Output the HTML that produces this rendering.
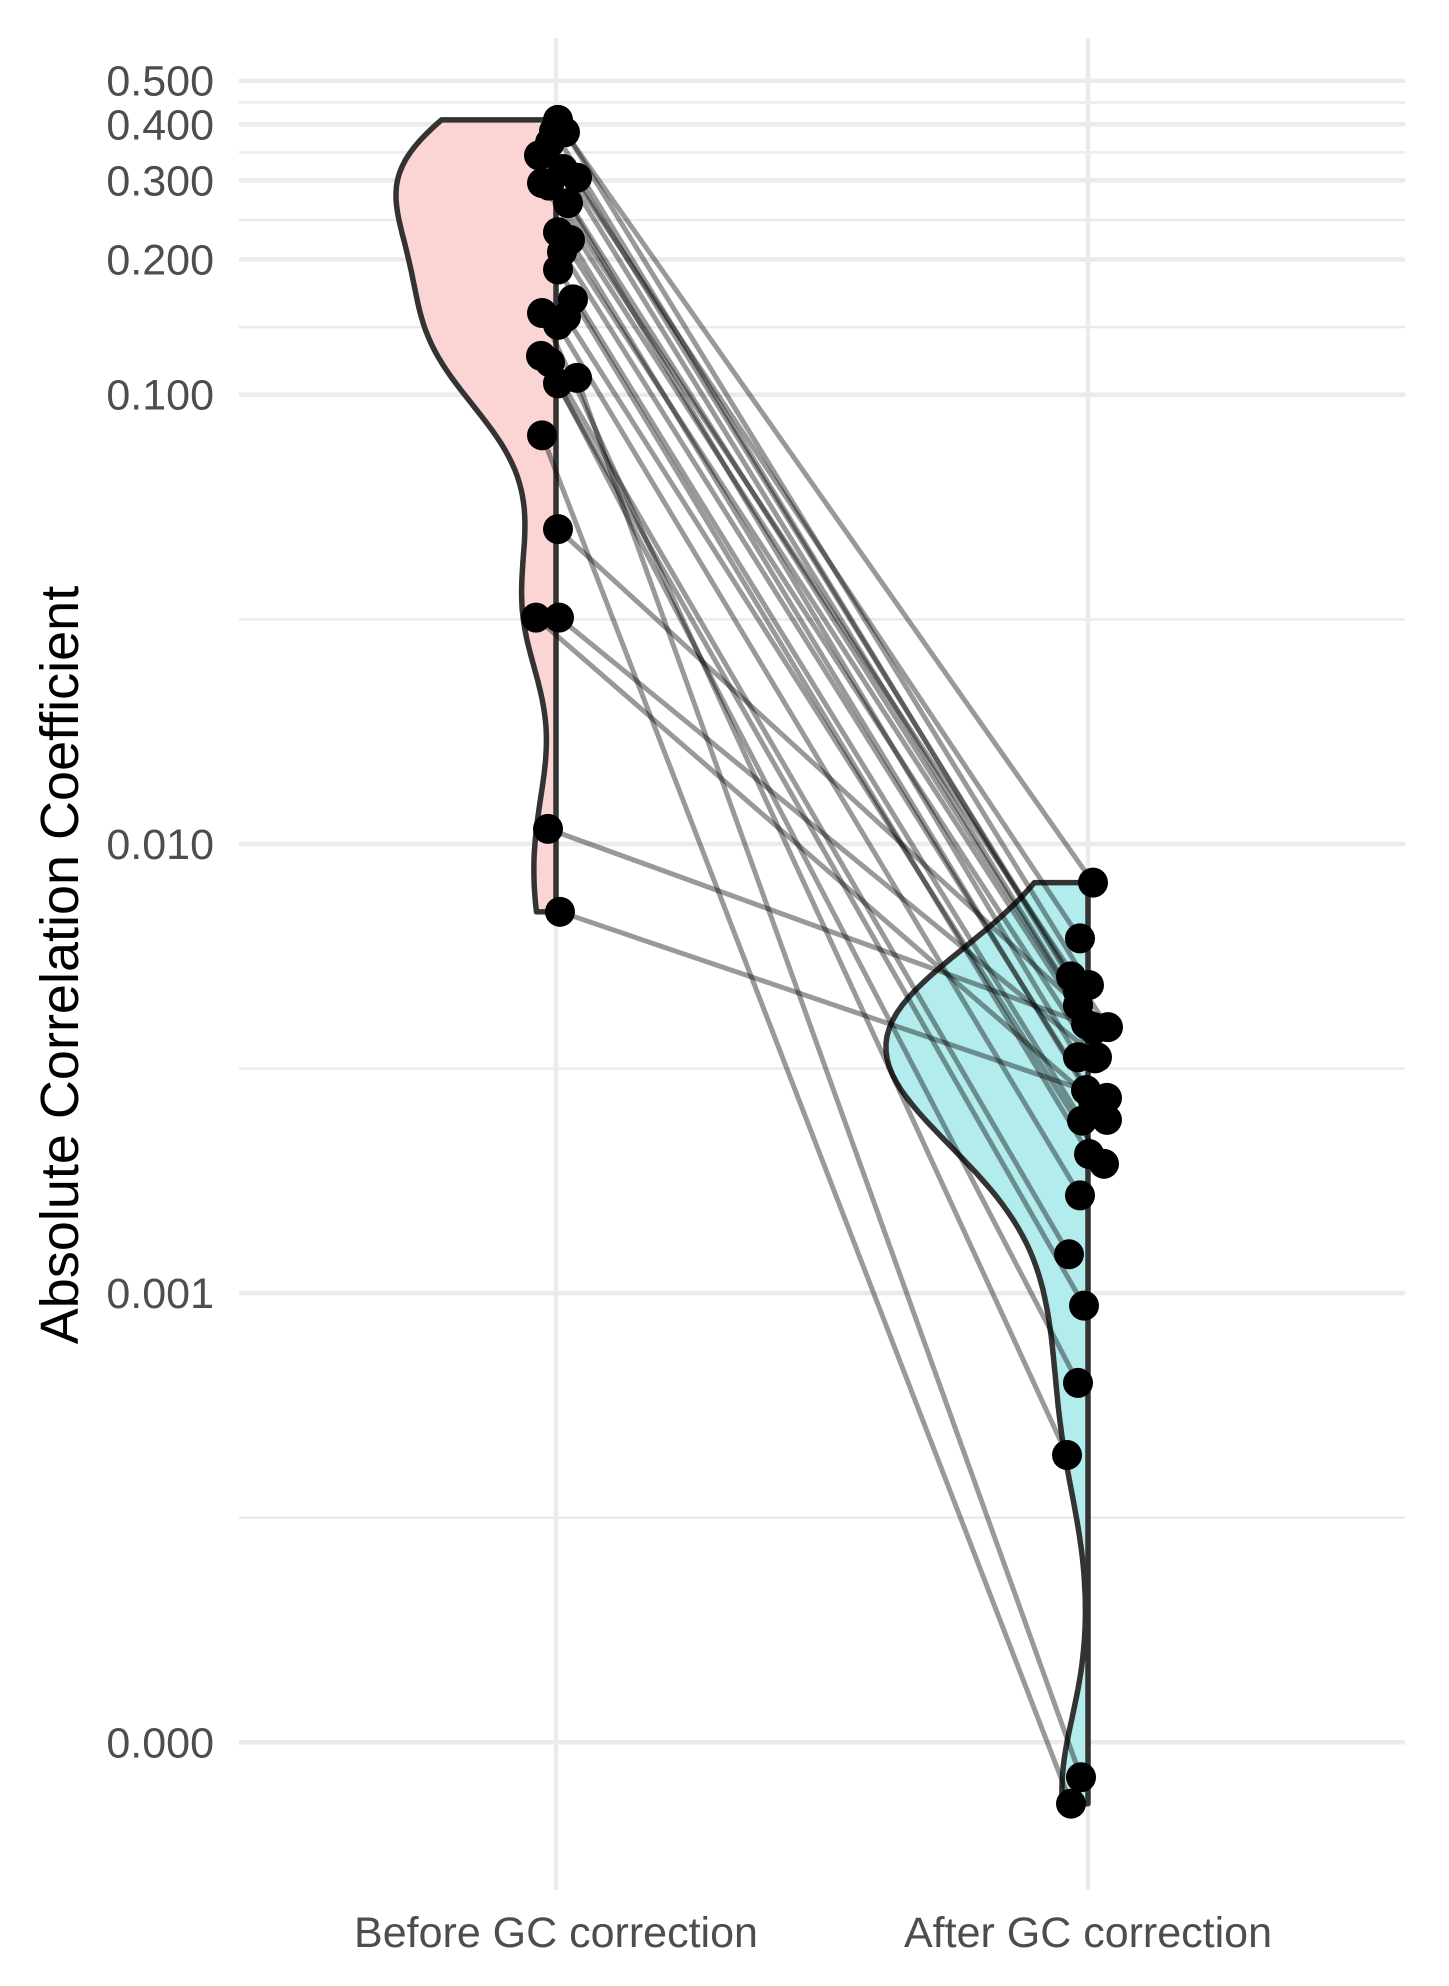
<!DOCTYPE html>
<html><head><meta charset="utf-8"><style>
html,body{margin:0;padding:0;background:#fff;}
svg{display:block;font-family:"Liberation Sans",Arial,sans-serif;}
</style></head><body>
<svg id="chart" width="1449" height="1986" viewBox="0 0 1449 1986" xmlns="http://www.w3.org/2000/svg">
<g id="grid"></g>
<g id="violins"></g>
<g id="links"></g>
<g id="points"></g>
<g id="axes"></g>
<text transform="translate(78,965) rotate(-90)" text-anchor="middle" font-size="54" fill="#000">Absolute Correlation Coefficient</text>
</svg>
<script>
const categories = ["Before GC correction", "After GC correction"];
const beforeValues = [0.409,0.386,0.384,0.341,0.364,0.296,0.292,0.318,0.304,0.267,0.230,0.221,0.208,0.190,0.152,0.163,0.149,0.143,0.122,0.118,0.106,0.109,0.0812,0.0502,0.0319,0.0319,0.0108,0.00706];
const afterValues = [0.00485,0.00469,0.00820,0.00437,0.00616,0.00397,0.00391,0.00386,0.00507,0.00335,0.00333,0.00283,0.00243,0.00242,0.000436,0.00204,0.00194,0.00165,0.000938,0.00122,0.000631,0.0000836,0.0000730,0.00437,0.00268,0.00335,0.00391,0.00272];
const beforeJitter = [2,-2,9,-17,-6,-14,-7,7,21,12,2,14,6,2,-14,17,10,2,-15,-6,2,21,-14,2,-20,3,-8,4];
const afterJitter = [1,-10,5,-10,-8,-2,20,6,-17,-10,7,-2,19,-6,-21,1,16,-8,-4,-19,-10,-7,-17,-10,5,9,6,19];
const yTickValues = [0.5,0.4,0.3,0.2,0.1,0.01,0.001,0.0001];
const yTickLabels = ["0.500","0.400","0.300","0.200","0.100","0.010","0.001","0.000"];
const yMinorValues = [0.4472,0.3464,0.2449,0.1414,0.03162,0.003162,0.0003162];

const NS="http://www.w3.org/2000/svg";
const X0=239, X1=1405;
const xPos=[556,1088];
function yScale(v){return 394.7+(-1-Math.log10(v))*449.2;}
function mk(tag,attrs,parent){const e=document.createElementNS(NS,tag);for(const k in attrs)e.setAttribute(k,attrs[k]);parent.appendChild(e);return e;}
const grid=document.getElementById('grid'), axes=document.getElementById('axes');
yMinorValues.forEach(v=>{const l=mk('line',{x1:X0,x2:X1,y1:yScale(v),y2:yScale(v),stroke:'#ebebeb','stroke-width':2.5},grid);

});
yTickValues.forEach((v,i)=>{const y=yScale(v);
const l=mk('line',{x1:X0,x2:X1,y1:y,y2:y,stroke:'#ebebeb','stroke-width':4.5},grid);


const t=mk('text',{x:214,y:y+15,'text-anchor':'end','font-size':43,fill:'#4d4d4d'},axes);
t.textContent=yTickLabels[i];

});
xPos.forEach((x,i)=>{const l=mk('line',{x1:x,x2:x,y1:38,y2:1890,stroke:'#ebebeb','stroke-width':4.5},grid);


const t=mk('text',{x:x,y:1947,'text-anchor':'middle','font-size':43,fill:'#4d4d4d'},axes);
t.textContent=categories[i];

});

function violin(vals,cx,maxW,fill,bw,name){
  const lv=vals.map(v=>Math.log10(v));
  const lo=Math.min(...lv), hi=Math.max(...lv);
  const n=120, pts=[]; let mx=0;
  for(let i=0;i<=n;i++){const t=lo+(hi-lo)*i/n;let d=0;lv.forEach(a=>{d+=Math.exp(-0.5*((t-a)/bw)**2);});pts.push([t,d]);if(d>mx)mx=d;}
  let p=`M${cx},${yScale(Math.pow(10,hi))}`;
  for(let i=n;i>=0;i--){const [t,d]=pts[i];p+=` L${(cx-d/mx*maxW).toFixed(1)},${yScale(Math.pow(10,t)).toFixed(1)}`;}
  p+=` L${cx},${yScale(Math.pow(10,lo))} Z`;
  const e=mk('path',{d:p,fill:fill,stroke:'#333','stroke-width':5.5,'stroke-linejoin':'round'},document.getElementById('violins'));
  
  
}
violin(beforeValues,xPos[0],160,'#fbd5d3',0.14,'violin-before');
violin(afterValues,xPos[1],202,'#b2ecec',0.16,'violin-after');

const links=document.getElementById('links'), points=document.getElementById('points');
beforeValues.forEach((v,i)=>{
  const l=mk('line',{x1:xPos[0]+beforeJitter[i],y1:yScale(v),x2:xPos[1]+afterJitter[i],y2:yScale(afterValues[i]),stroke:'#000','stroke-opacity':0.4,'stroke-width':5},links);
  
  
});
beforeValues.forEach((v,i)=>{
  const c=mk('circle',{cx:xPos[0]+beforeJitter[i],cy:yScale(v),r:15,fill:'#000'},points);
  
  
});
afterValues.forEach((v,i)=>{
  const c=mk('circle',{cx:xPos[1]+afterJitter[i],cy:yScale(v),r:15,fill:'#000'},points);
  
  
});
</script>
</body></html>
